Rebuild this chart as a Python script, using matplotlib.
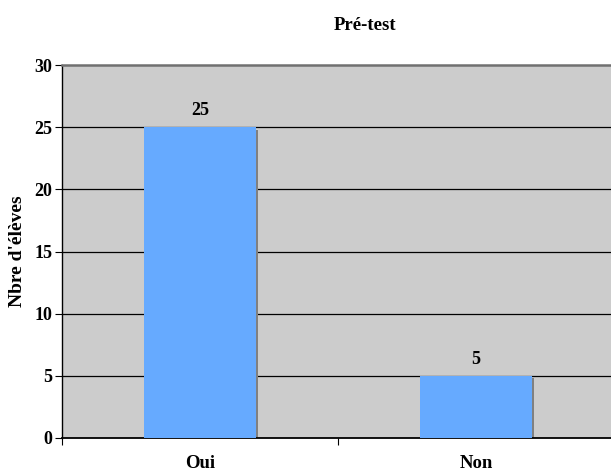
import matplotlib
matplotlib.use('Agg')
import matplotlib.pyplot as plt
import matplotlib.transforms as mtransforms

# Réponses au pré-test
categories = ['Oui', 'Non']
counts = [25, 5]
yticks = [0, 5, 10, 15, 20, 25, 30]

bar_color = '#66aaff'
plt.rcParams['font.family'] = ['Liberation Serif', 'DejaVu Serif']
plt.rcParams['font.weight'] = 'bold'

fig = plt.figure(figsize=(6.11, 4.72), dpi=100)
# la zone de tracé déborde légèrement à droite de la figure
ax = fig.add_axes([62 / 611, 34 / 472, 552 / 611, 373 / 472])
ax.set_facecolor('#cccccc')

pos = list(range(len(categories)))
width = 0.405

# ombre portée des barres, décalée de quelques pixels
shadow = mtransforms.offset_copy(ax.transData, fig=fig, x=2.5, y=-2.5, units='dots')
ax.bar(pos, counts, width=width, color='#808080', transform=shadow, zorder=2)
ax.bar(pos, counts, width=width, color=bar_color, zorder=3)

for x, v in zip(pos, counts):
    ax.text(x, v + 0.65, str(v), ha='center', va='bottom', fontsize=13,
            fontweight='bold', zorder=4)

ax.set_xlim(-0.5, len(categories) - 0.5)
ax.set_ylim(0, 30)
ax.set_yticks(yticks)
ax.set_yticklabels([str(t) for t in yticks], fontsize=13, fontweight='bold')
for t in yticks[1:-1]:
    ax.axhline(t, color='black', linewidth=0.9, zorder=1)

ax.set_xticks([p - 0.5 for p in pos] + [pos[-1] + 0.5])
ax.set_xticklabels([])
ax.set_xticks(pos, minor=True)
ax.set_xticklabels(categories, minor=True, fontsize=13.5, fontweight='bold')
ax.tick_params(axis='x', which='minor', length=0, pad=12)
ax.tick_params(axis='x', which='major', length=5, width=0.8, direction='out')
ax.tick_params(axis='y', length=5, width=0.8, direction='out', pad=2)

ax.spines['right'].set_visible(False)
ax.spines['top'].set_color('#707070')
ax.spines['top'].set_linewidth(1.8)
ax.spines['left'].set_linewidth(1.0)
ax.spines['bottom'].set_linewidth(1.3)

ax.set_ylabel("Nbre d'élèves", fontsize=14, fontweight='bold', labelpad=6)
fig.text(365 / 611, 1 - 26 / 472, 'Pré-test', ha='center', va='center',
         fontsize=13.5, fontweight='bold')

fig.savefig('out.png', dpi=100)
